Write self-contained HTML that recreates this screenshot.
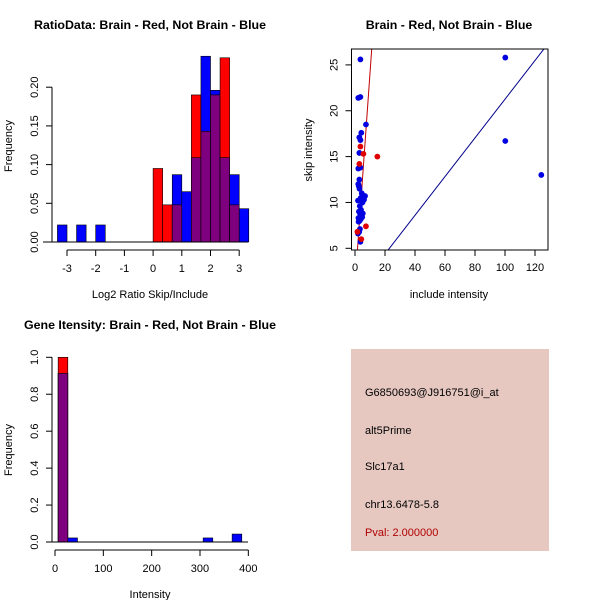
<!DOCTYPE html>
<html><head><meta charset="utf-8"><style>
body{margin:0;background:#fff}
svg{display:block;font-family:"Liberation Sans",sans-serif}
text{fill:#000}
</style></head><body>
<svg id="root" width="600" height="600" viewBox="0 0 600 600">
<rect width="600" height="600" fill="#fff"/>
<g id="p1"></g>
<g id="p2"></g>
<g id="p3"></g>
<g>
<rect x="351" y="349" width="198" height="202" fill="#e6c8c1"/>
<text x="365" y="396" font-size="11">G6850693@J916751@i_at</text>
<text x="365" y="434" font-size="11">alt5Prime</text>
<text x="365" y="470" font-size="11">Slc17a1</text>
<text x="365" y="508" font-size="11">chr13.6478-5.8</text>
<text x="365" y="536" font-size="11" fill="#b00000" style="fill:#b00000">Pval: 2.000000</text>
</g>
</svg>
<script>
// ---- Plot 1 data ----
const ratioBinStarts=[-3.333,-3.0,-2.667,-2.333,-2.0,-1.667,-1.333,-1.0,-0.667,-0.333,0,0.333,0.667,1.0,1.333,1.667,2.0,2.333,2.667,3.0];
const ratioBlue=[0.022,0,0.022,0,0.022,0,0,0,0,0,0,0,0.087,0.065,0.109,0.24,0.196,0.109,0.087,0.043];
const ratioRed=[0,0,0,0,0,0,0,0,0,0,0.095,0.048,0.048,0,0.19,0.143,0.19,0.238,0.048,0];
const ratioXTicks=[-3,-2,-1,0,1,2,3];
const ratioYTicks=[0,0.05,0.10,0.15,0.20];
const ratioYLabels=["0.00","0.05","0.10","0.15","0.20"];
// ---- Plot 2 data ----
const bluePtsX=[3.6,2.2,3.6,7.3,4.2,2.9,3.6,2.9,3.6,2.2,2.9,6.7,6,3.6,2.2,3.0,4.5,2.5,3.8,5.0,2.0,3.2,4.0,2.6,3.5,5.2,4.8,2.3,3.1,2.4,3.9,2.0,3.3,2.8,100.2,100.2,124.2];
const bluePtsY=[25.6,21.4,21.5,18.5,17.6,17.1,16.8,15.4,13.8,13.7,12.5,10.7,10.3,5.7,12.0,11.5,11.0,11.8,10.5,10.0,10.2,9.6,9.2,9.0,8.7,8.8,8.4,8.3,8.0,7.9,8.2,6.6,7.1,6.8,25.8,16.7,13.0];
const redPtsX=[3.6,5.6,14.9,2.9,7.3,4.2,1.6];
const redPtsY=[16.1,15.3,15.0,14.2,7.4,6.0,6.8];
const blueFit=[0.16,0.211];
const redFit=[1.1,2.3];
const scatXTicks=[0,20,40,60,80,100,120];
const scatYTicks=[5,10,15,20,25];
// ---- Plot 3 data ----
const intBinStarts=[6.5,26.5,306.5,366.5];
const intBlue=[0.913,0.022,0.022,0.043];
const intRed=[1.0,0,0,0];
const intXTicks=[0,100,200,300,400];
const intYTicks=[0,0.2,0.4,0.6,0.8,1.0];
const intYLabels=["0.0","0.2","0.4","0.6","0.8","1.0"];

const NS="http://www.w3.org/2000/svg";
function mk(parent,tag,attrs,txt){const e=document.createElementNS(NS,tag);for(const k in attrs)e.setAttribute(k,attrs[k]);if(txt!==undefined)e.textContent=txt;parent.appendChild(e);return e;}
const BLUE="#0000ff",RED="#ff0000",PURP="#7f007f";
const TS=12.4;

// ---- Plot 1 ----
(function(){
const g=document.getElementById('p1');
const sx=v=>67+(v+3)*28.7, sy=v=>242-v*774;
const w=1/3;
for(let i=0;i<ratioBinStarts.length;i++){
  const b=ratioBlue[i],r=ratioRed[i],x0=sx(ratioBinStarts[i]),x1=sx(ratioBinStarts[i]+w);
  const m=Math.min(b,r);
  if(b>0){const el=mk(g,'rect',{x:x0,y:sy(b),width:x1-x0,height:sy(0)-sy(b),fill:BLUE,stroke:'#000','stroke-width':0.6});
  
  }
  if(r>0){const el=mk(g,'rect',{x:x0,y:sy(r),width:x1-x0,height:sy(0)-sy(r),fill:RED,stroke:'#000','stroke-width':0.6});
  
  }
  if(m>0){const el=mk(g,'rect',{x:x0,y:sy(m),width:x1-x0,height:sy(0)-sy(m),fill:PURP,stroke:'#000','stroke-width':0.6});
  
  }
}
mk(g,'line',{x1:43,x2:248,y1:242,y2:242,stroke:'#000'});
mk(g,'line',{x1:sx(-3),x2:sx(3),y1:250,y2:250,stroke:'#000'});
ratioXTicks.forEach(t=>{mk(g,'line',{x1:sx(t),x2:sx(t),y1:250,y2:256,stroke:'#000'});
  const tx=mk(g,'text',{x:sx(t),y:272,'font-size':11,'text-anchor':'middle'},String(t));
  
  });
mk(g,'line',{x1:52,x2:52,y1:sy(0),y2:sy(0.2),stroke:'#000'});
ratioYTicks.forEach((t,i)=>{mk(g,'line',{x1:46,x2:52,y1:sy(t),y2:sy(t),stroke:'#000'});
  const tx=mk(g,'text',{x:38,y:sy(t),'font-size':11,'text-anchor':'middle',transform:`rotate(-90 38 ${sy(t)})`},ratioYLabels[i]);
  
  });
let t=mk(g,'text',{x:150,y:298,'font-size':11,'text-anchor':'middle'},'Log2 Ratio Skip/Include');

t=mk(g,'text',{x:12,y:146,'font-size':11,'text-anchor':'middle',transform:'rotate(-90 12 146)'},'Frequency');

t=mk(g,'text',{x:150,y:29,'font-size':TS,'font-weight':'bold','text-anchor':'middle'},'RatioData: Brain - Red, Not Brain - Blue');

})();

// ---- Plot 2 ----
(function(){
const g=document.getElementById('p2');
const sx=v=>355+v*1.5, sy=v=>248.3-(v-5)*9.17;
const L=351.5,R=548,T=49,B=250;
const defs=mk(g,'clipPath',{id:'c2'});mk(defs,'rect',{x:L,y:T,width:R-L,height:B-T});
const lg=mk(g,'g',{'clip-path':'url(#c2)'});
let ln=mk(lg,'line',{x1:sx(-10),y1:sy(blueFit[0]+blueFit[1]*-10),x2:sx(140),y2:sy(blueFit[0]+blueFit[1]*140),stroke:'#00008b','stroke-width':1});

ln=mk(lg,'line',{x1:sx(-2),y1:sy(redFit[0]+redFit[1]*-2),x2:sx(14),y2:sy(redFit[0]+redFit[1]*14),stroke:'#c00000','stroke-width':1});

bluePtsX.forEach((x,i)=>{const c=mk(g,'circle',{cx:sx(x),cy:sy(bluePtsY[i]),r:2.9,fill:'#0000e0'});
  
  });
redPtsX.forEach((x,i)=>{const c=mk(g,'circle',{cx:sx(x),cy:sy(redPtsY[i]),r:2.9,fill:'#e00000'});
  
  });
mk(g,'rect',{x:L,y:T,width:R-L,height:B-T,fill:'none',stroke:'#000'});
scatXTicks.forEach(t=>{mk(g,'line',{x1:sx(t),x2:sx(t),y1:B,y2:B+6,stroke:'#000'});
  const tx=mk(g,'text',{x:sx(t),y:B+21,'font-size':11,'text-anchor':'middle'},String(t));
  
  });
scatYTicks.forEach(t=>{mk(g,'line',{x1:L-6,x2:L,y1:sy(t),y2:sy(t),stroke:'#000'});
  const tx=mk(g,'text',{x:L-14,y:sy(t),'font-size':11,'text-anchor':'middle',transform:`rotate(-90 ${L-14} ${sy(t)})`},String(t));
  
  });
let t=mk(g,'text',{x:449,y:298,'font-size':11,'text-anchor':'middle'},'include intensity');

t=mk(g,'text',{x:312,y:150,'font-size':11,'text-anchor':'middle',transform:'rotate(-90 312 150)'},'skip intensity');

t=mk(g,'text',{x:449,y:29,'font-size':TS,'font-weight':'bold','text-anchor':'middle'},'Brain - Red, Not Brain - Blue');

})();

// ---- Plot 3 ----
(function(){
const g=document.getElementById('p3');
const sx=v=>55+v*0.4833, sy=v=>542-v*184.7;
for(let i=0;i<intBinStarts.length;i++){
  const b=intBlue[i],r=intRed[i],x0=sx(intBinStarts[i]),x1=sx(intBinStarts[i]+20),m=Math.min(b,r);
  if(b>0){const el=mk(g,'rect',{x:x0,y:sy(b),width:x1-x0,height:sy(0)-sy(b),fill:BLUE,stroke:'#000','stroke-width':0.6});
  
  }
  if(r>0){const el=mk(g,'rect',{x:x0,y:sy(r),width:x1-x0,height:sy(0)-sy(r),fill:RED,stroke:'#000','stroke-width':0.6});
  
  }
  if(m>0){const el=mk(g,'rect',{x:x0,y:sy(m),width:x1-x0,height:sy(0)-sy(m),fill:PURP,stroke:'#000','stroke-width':0.6});
  
  }
}
mk(g,'line',{x1:52,x2:248,y1:542,y2:542,stroke:'#000'});
mk(g,'line',{x1:sx(0),x2:sx(400),y1:550,y2:550,stroke:'#000'});
intXTicks.forEach(t=>{mk(g,'line',{x1:sx(t),x2:sx(t),y1:550,y2:556,stroke:'#000'});
  const tx=mk(g,'text',{x:sx(t),y:572,'font-size':11,'text-anchor':'middle'},String(t));
  
  });
mk(g,'line',{x1:52,x2:52,y1:sy(0),y2:sy(1),stroke:'#000'});
intYTicks.forEach((t,i)=>{mk(g,'line',{x1:46,x2:52,y1:sy(t),y2:sy(t),stroke:'#000'});
  const tx=mk(g,'text',{x:38,y:sy(t),'font-size':11,'text-anchor':'middle',transform:`rotate(-90 38 ${sy(t)})`},intYLabels[i]);
  
  });
let t=mk(g,'text',{x:150,y:598,'font-size':11,'text-anchor':'middle'},'Intensity');

t=mk(g,'text',{x:12,y:450,'font-size':11,'text-anchor':'middle',transform:'rotate(-90 12 450)'},'Frequency');

t=mk(g,'text',{x:150,y:329,'font-size':TS,'font-weight':'bold','text-anchor':'middle'},'Gene Itensity: Brain - Red, Not Brain - Blue');

})();
</script>
</body></html>
